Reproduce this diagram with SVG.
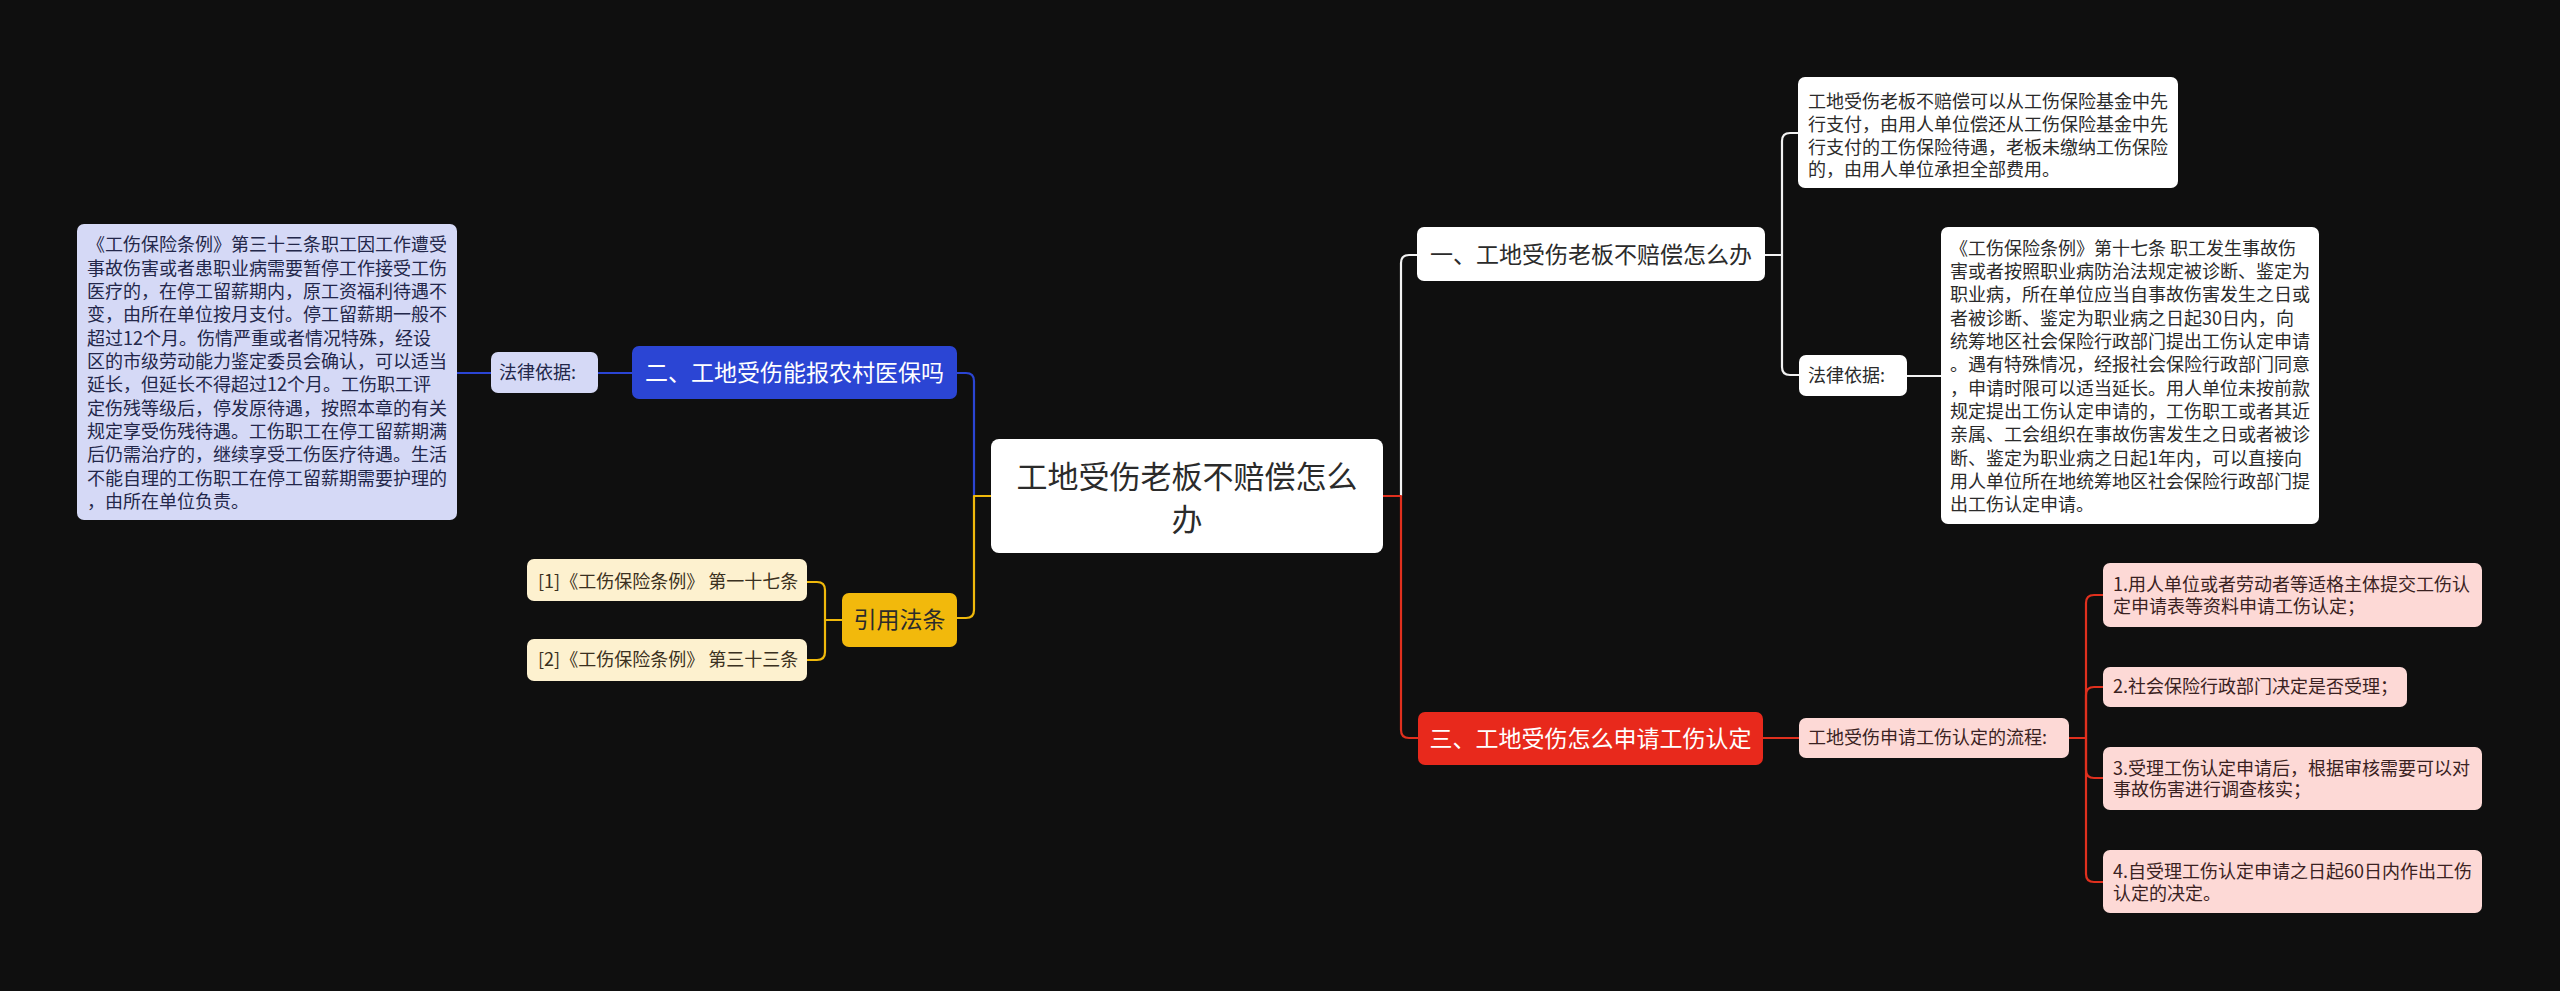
<svg xmlns="http://www.w3.org/2000/svg" width="2560" height="991" viewBox="0 0 2560 991">
<style>
text{font-family:"Noto Sans CJK SC","Noto Sans",sans-serif;}
.s18{font-size:18px;}
.s23{font-size:23px;}
.s31{font-size:31px;}
.c{fill:none;stroke-width:2.2;stroke-linecap:round;stroke-linejoin:round;}
.cw{stroke:#f2f2f2;}
.cb{stroke:#2b45d4;}
.cy{stroke:#f0b90b;}
.cr{stroke:#e0301e;}
.dark{fill:#2b2b2b;}
.navy{fill:#23274a;}
.brown{fill:#3a3020;}
.maroon{fill:#3a2222;}
.white{fill:#ffffff;}
</style>
<rect x="0" y="0" width="2560" height="991" fill="#0f0f0f"/>

<g id="connectors">
  <path class="c cw" d="M1401,496 V263 Q1401,255 1409,255 H1417"/>
  <path class="c cr" d="M1383,496 H1401 V730 Q1401,738 1409,738 H1418"/>
  <path class="c cw" d="M1765,255 H1782"/>
  <path class="c cw" d="M1782,255 V141 Q1782,133 1790,133 H1798"/>
  <path class="c cw" d="M1782,255 V367 Q1782,375 1790,375 H1799"/>
  <path class="c cw" d="M1907,376 H1941"/>
  <path class="c cb" d="M974,496 V381 Q974,373 966,373 H957"/>
  <path class="c cy" d="M991,496 H974 V610 Q974,618 966,618 H957"/>
  <path class="c cb" d="M632,373 H598"/>
  <path class="c cb" d="M491,373 H457"/>
  <path class="c cy" d="M842,620 H825"/>
  <path class="c cy" d="M825,620 V590 Q825,582 817,582 H807"/>
  <path class="c cy" d="M825,620 V652 Q825,660 817,660 H807"/>
  <path class="c cr" d="M1763,738 H1799"/>
  <path class="c cr" d="M2069,738 H2086"/>
  <path class="c cr" d="M2086,738 V603 Q2086,595 2094,595 H2103"/>
  <path class="c cr" d="M2086,738 V695 Q2086,687 2094,687 H2103"/>
  <path class="c cr" d="M2086,738 V770 Q2086,778 2094,778 H2103"/>
  <path class="c cr" d="M2086,738 V874 Q2086,882 2094,882 H2103"/>
</g>

<g id="center">
  <rect x="991" y="439" width="392" height="114" rx="8" fill="#ffffff"/>
  <text class="s31 dark" text-anchor="middle"><tspan x="1187" y="488">工地受伤老板不赔偿怎么</tspan><tspan x="1187" y="531">办</tspan></text>
</g>

<g id="n1">
  <rect x="1417" y="227" width="348" height="54" rx="7" fill="#ffffff"/>
  <text class="s23 dark" x="1591" y="263" text-anchor="middle">一、工地受伤老板不赔偿怎么办</text>
</g>

<g id="n1a">
  <rect x="1798" y="77" width="380" height="111" rx="7" fill="#ffffff"/>
  <text class="s18 dark"><tspan x="1808" y="108">工地受伤老板不赔偿可以从工伤保险基金中先</tspan><tspan x="1808" y="130.8">行支付，由用人单位偿还从工伤保险基金中先</tspan><tspan x="1808" y="153.6">行支付的工伤保险待遇，老板未缴纳工伤保险</tspan><tspan x="1808" y="176.3">的，由用人单位承担全部费用。</tspan></text>
</g>

<g id="n1b">
  <rect x="1799" y="355" width="108" height="41" rx="7" fill="#ffffff"/>
  <text class="s18 dark" x="1808" y="382.3">法律依据:</text>
</g>

<g id="n1b1">
  <rect x="1941" y="227" width="378" height="297" rx="7" fill="#ffffff"/>
  <text class="s18 dark"><tspan x="1950" y="254.6">《工伤保险条例》第十七条 职工发生事故伤</tspan><tspan x="1950" y="277.9">害或者按照职业病防治法规定被诊断、鉴定为</tspan><tspan x="1950" y="301.3">职业病，所在单位应当自事故伤害发生之日或</tspan><tspan x="1950" y="324.6">者被诊断、鉴定为职业病之日起30日内，向</tspan><tspan x="1950" y="347.9">统筹地区社会保险行政部门提出工伤认定申请</tspan><tspan x="1950" y="371.3">。遇有特殊情况，经报社会保险行政部门同意</tspan><tspan x="1950" y="394.6">，申请时限可以适当延长。用人单位未按前款</tspan><tspan x="1950" y="417.9">规定提出工伤认定申请的，工伤职工或者其近</tspan><tspan x="1950" y="441.3">亲属、工会组织在事故伤害发生之日或者被诊</tspan><tspan x="1950" y="464.6">断、鉴定为职业病之日起1年内，可以直接向</tspan><tspan x="1950" y="487.9">用人单位所在地统筹地区社会保险行政部门提</tspan><tspan x="1950" y="511.3">出工伤认定申请。</tspan></text>
</g>

<g id="n2">
  <rect x="632" y="346" width="325" height="53" rx="7" fill="#2b45d4"/>
  <text class="s23 white" x="794.5" y="381" text-anchor="middle">二、工地受伤能报农村医保吗</text>
</g>

<g id="n2a">
  <rect x="491" y="352" width="107" height="41" rx="7" fill="#d5d9f6"/>
  <text class="s18 navy" x="499" y="379.3">法律依据:</text>
</g>

<g id="n2a1">
  <rect x="77" y="224" width="380" height="296" rx="7" fill="#d5d9f6"/>
  <text class="s18 navy"><tspan x="87" y="251.3">《工伤保险条例》第三十三条职工因工作遭受</tspan><tspan x="87" y="274.7">事故伤害或者患职业病需要暂停工作接受工伤</tspan><tspan x="87" y="298">医疗的，在停工留薪期内，原工资福利待遇不</tspan><tspan x="87" y="321.3">变，由所在单位按月支付。停工留薪期一般不</tspan><tspan x="87" y="344.7">超过12个月。伤情严重或者情况特殊，经设</tspan><tspan x="87" y="368">区的市级劳动能力鉴定委员会确认，可以适当</tspan><tspan x="87" y="391.3">延长，但延长不得超过12个月。工伤职工评</tspan><tspan x="87" y="414.7">定伤残等级后，停发原待遇，按照本章的有关</tspan><tspan x="87" y="438">规定享受伤残待遇。工伤职工在停工留薪期满</tspan><tspan x="87" y="461.3">后仍需治疗的，继续享受工伤医疗待遇。生活</tspan><tspan x="87" y="484.7">不能自理的工伤职工在停工留薪期需要护理的</tspan><tspan x="87" y="508">，由所在单位负责。</tspan></text>
</g>

<g id="n4">
  <rect x="842" y="593" width="115" height="54" rx="7" fill="#f2b90c"/>
  <text class="s23 dark" x="899.5" y="628" text-anchor="middle">引用法条</text>
</g>

<g id="n4a">
  <rect x="527" y="559" width="280" height="42" rx="7" fill="#fdf1cf"/>
  <text class="s18 brown" x="538" y="588.3">[1]《工伤保险条例》 第一十七条</text>
</g>

<g id="n4b">
  <rect x="527" y="639" width="280" height="42" rx="7" fill="#fdf1cf"/>
  <text class="s18 brown" x="538" y="666.3">[2]《工伤保险条例》 第三十三条</text>
</g>

<g id="n3">
  <rect x="1418" y="712" width="345" height="53" rx="7" fill="#e8291c"/>
  <text class="s23 white" x="1590.5" y="746.5" text-anchor="middle">三、工地受伤怎么申请工伤认定</text>
</g>

<g id="n3a">
  <rect x="1799" y="718" width="270" height="40" rx="7" fill="#fdd9d6"/>
  <text class="s18 maroon" x="1808" y="744.3">工地受伤申请工伤认定的流程:</text>
</g>

<g id="n3a1">
  <rect x="2103" y="563" width="379" height="64" rx="7" fill="#fdd9d6"/>
  <text class="s18 maroon"><tspan x="2113" y="591.3">1.用人单位或者劳动者等适格主体提交工伤认</tspan><tspan x="2113" y="613">定申请表等资料申请工伤认定；</tspan></text>
</g>

<g id="n3a2">
  <rect x="2103" y="667" width="304" height="40" rx="7" fill="#fdd9d6"/>
  <text class="s18 maroon" x="2113" y="693.3">2.社会保险行政部门决定是否受理；</text>
</g>

<g id="n3a3">
  <rect x="2103" y="747" width="379" height="63" rx="7" fill="#fdd9d6"/>
  <text class="s18 maroon"><tspan x="2113" y="774.6">3.受理工伤认定申请后，根据审核需要可以对</tspan><tspan x="2113" y="796.3">事故伤害进行调查核实；</tspan></text>
</g>

<g id="n3a4">
  <rect x="2103" y="850" width="379" height="63" rx="7" fill="#fdd9d6"/>
  <text class="s18 maroon"><tspan x="2113" y="878">4.自受理工伤认定申请之日起60日内作出工伤</tspan><tspan x="2113" y="899.6">认定的决定。</tspan></text>
</g>
</svg>
